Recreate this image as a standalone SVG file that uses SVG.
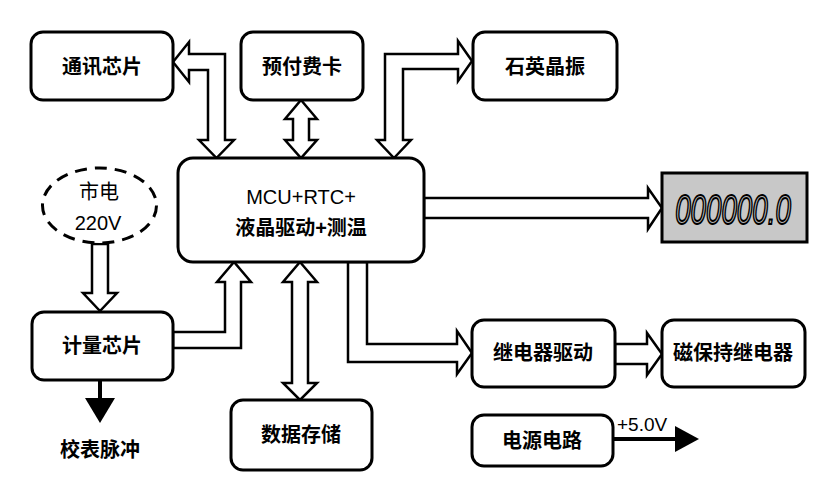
<svg xmlns="http://www.w3.org/2000/svg" width="833" height="494" viewBox="0 0 833 494">
<style>
.box{fill:#fff;stroke:#000;stroke-width:3}
.lbl{font-family:"Liberation Sans","Noto Sans CJK SC",sans-serif;font-size:20px;font-weight:bold;text-anchor:middle;dominant-baseline:central;fill:#000}
.reg{font-family:"Liberation Sans","Noto Sans CJK SC",sans-serif;font-size:20px;text-anchor:middle;dominant-baseline:central;fill:#000}
.arr{fill:#fff;stroke:#000;stroke-width:2.5;stroke-linejoin:miter}
.blk{fill:#000;stroke:none}
</style>
<rect width="833" height="494" fill="#fff"/>
<g id="connectors">
<polygon class="arr" points="173,62 189,42 189,54 225,54 225,140 234,140 216.5,158 199,140 208,140 208,70 189,70 189,82"/>
<polygon class="arr" points="301,100 317,119 309,119 309,140 317,140 301,158 285,140 293,140 293,119 285,119"/>
<polygon class="arr" points="472,61 458,41 458,54 385,54 385,140 377,140 394,158 411,140 403,140 403,69 458,69 458,81"/>
<polygon class="arr" points="424,198 648,198 648,188 662,208 648,229 648,218 424,218"/>
<polygon class="arr" points="92,244 108,244 108,293 117,293 100,311 83,293 92,293"/>
<polygon class="arr" points="173,332 225,332 225,282 217,282 234,262 251,282 241,282 241,348 173,348"/>
<polygon class="arr" points="300,262 317,282 308,282 308,383 317,383 300,400 283,383 292,383 292,282 283,282"/>
<polygon class="arr" points="348,262 348,362 457,362 457,374 472,353 457,331 457,344 367,344 367,262"/>
<polygon class="arr" points="615,344 647,344 647,333 662,354 647,375 647,364 615,364"/>
<line x1="100" y1="380" x2="100" y2="400" stroke="#000" stroke-width="4"/>
<polygon class="blk" points="85,398 115,398 100,423"/>
<line x1="613" y1="439" x2="677" y2="439" stroke="#000" stroke-width="4"/>
<polygon class="blk" points="675,426 675,452 699,439"/>
</g>
<g id="comm"><rect class="box" x="31" y="32" width="142" height="68" rx="12"/><text class="lbl" x="102" y="67">通讯芯片</text></g>
<g id="prepaid"><rect class="box" x="241" y="32" width="122" height="68" rx="12"/><text class="lbl" x="302" y="67">预付费卡</text></g>
<g id="crystal"><rect class="box" x="473" y="32" width="144" height="68" rx="12"/><text class="lbl" x="545" y="67">石英晶振</text></g>
<g id="mcu"><rect class="box" x="178" y="158" width="246" height="104" rx="15"/><text class="reg" x="301" y="197">MCU+RTC+</text><text class="lbl" x="301" y="228" style="font-weight:600">液晶驱动+测温</text></g>
<g id="mains"><ellipse cx="99.5" cy="205.5" rx="57" ry="37.5" fill="#fff" stroke="#000" stroke-width="3" stroke-dasharray="12,8"/><text class="reg" x="99" y="192">市电</text><text class="reg" x="98" y="223">220V</text></g>
<g id="display"><rect x="662" y="173" width="145" height="69" fill="#c8c8c8" stroke="#000" stroke-width="3"/><text transform="translate(733,224) scale(0.66,1)" x="0" y="0" font-family="Liberation Sans, sans-serif" font-size="42" font-style="italic" text-anchor="middle" fill="#bdbdbd" stroke="#000" stroke-width="2">000000.0</text></g>
<g id="meter"><rect class="box" x="32" y="312" width="141" height="68" rx="12"/><text class="lbl" x="102" y="346">计量芯片</text></g>
<g id="pulse"><text class="lbl" x="100" y="450">校表脉冲</text></g>
<g id="storage"><rect class="box" x="231" y="400" width="141" height="70" rx="12"/><text class="lbl" x="301" y="435">数据存储</text></g>
<g id="relaydrv"><rect class="box" x="472" y="320" width="143" height="67" rx="12"/><text class="lbl" x="543" y="353">继电器驱动</text></g>
<g id="relay"><rect class="box" x="662" y="320" width="143" height="67" rx="12"/><text class="lbl" x="733" y="353">磁保持继电器</text></g>
<g id="power"><rect class="box" x="472" y="415" width="141" height="51" rx="12"/><text class="lbl" x="542" y="441">电源电路</text><text x="617" y="431" font-family="Liberation Sans, sans-serif" font-size="19" fill="#000">+5.0V</text></g>
</svg>
